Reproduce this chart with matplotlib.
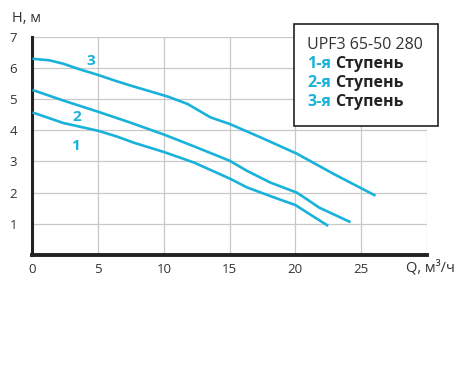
import matplotlib
matplotlib.use("Agg")
import matplotlib.pyplot as plt

plt.rcParams['font.family'] = ['Open Sans', 'DejaVu Sans']

# stage curves
q1 = [0, 2.35, 5, 6.4, 7.7, 10, 12.3, 15, 16.35, 18.4, 20, 22.5]
h1 = [4.57, 4.23, 3.98, 3.80, 3.60, 3.30, 2.96, 2.45, 2.16, 1.84, 1.6, 0.93]

q2 = [0, 2.35, 5, 7.4, 10, 12.3, 15, 16.35, 18.1, 20.1, 20.9, 21.8, 24.2]
h2 = [5.29, 4.95, 4.59, 4.25, 3.86, 3.48, 3.02, 2.69, 2.32, 2.0, 1.78, 1.52, 1.05]

q3 = [0, 1.3, 2.35, 3.6, 5, 6.4, 7.7, 9, 10.35, 11.8, 13.55, 15, 17.35,
      20.1, 22.9, 26.1]
h3 = [6.29, 6.24, 6.13, 5.95, 5.77, 5.57, 5.40, 5.24, 5.07, 4.84, 4.41, 4.2,
      3.77, 3.25, 2.6, 1.9]

curve_labels = ['1', '2', '3']
label_pos = [(3.3, 3.5), (3.4, 4.42), (4.4, 6.22)]
legend_title = 'UPF3 65-50 280'
stage_nums = ['1-я', '2-я', '3-я']

xticks = [0, 5, 10, 15, 20, 25]
yticks = [1, 2, 3, 4, 5, 6, 7]

cyan = '#19b2da'

fig = plt.figure(figsize=(4.59, 3.70), dpi=100)
ax = fig.add_axes([0.0708, 0.311, 0.859, 0.590])

for q, h in [(q1, h1), (q2, h2), (q3, h3)]:
    ax.plot(q, h, color=cyan, lw=1.9, solid_capstyle='butt',
            solid_joinstyle='round', zorder=3)

for t, (x, y) in zip(curve_labels, label_pos):
    ax.text(x, y, t, color=cyan, fontsize=11, fontweight='bold',
            ha='center', va='center')

ax.set_xlim(0, 30)
ax.set_ylim(0, 7)
ax.set_xticks(xticks + [30])
ax.set_xticklabels([str(v) for v in xticks] + [''])
ax.set_yticks(yticks)
ax.grid(True, color='#c8c8c8', lw=0.9)
ax.tick_params(length=0, labelsize=9.5, labelcolor='#333333')
ax.tick_params(axis='y', pad=11)
ax.tick_params(axis='x', pad=6)

for s in ['top', 'right']:
    ax.spines[s].set_visible(False)
ax.spines['left'].set_linewidth(2.2)
ax.spines['bottom'].set_linewidth(2.8)
ax.spines['left'].set_color('#222222')
ax.spines['bottom'].set_color('#222222')

fig.text(12 / 459, 1 - 18 / 370, 'Н, м', fontsize=10.5, color='#333333',
         ha='left', va='center')
fig.text(406 / 459, 1 - 268 / 370, 'Q, м³/ч', fontsize=10.5, color='#333333',
         ha='left', va='center')

# legend box
box = plt.Rectangle((294 / 459, 1 - 126 / 370), 144 / 459, 102 / 370,
                    transform=fig.transFigure, fill=True, facecolor='white',
                    edgecolor='#222222', lw=1.2, zorder=5)
fig.add_artist(box)
fig.text(307 / 459, 1 - 45 / 370, legend_title, fontsize=11.5,
         color='#333333', ha='left', va='center', zorder=6)
for i, s in enumerate(stage_nums):
    y = 1 - (64 + 19 * i) / 370
    t = fig.text(307 / 459, y, s, fontsize=11.5, fontweight='bold',
                 color=cyan, ha='left', va='center', zorder=6)
    fig.canvas.draw()
    bb = t.get_window_extent()
    fig.text(bb.x1 / fig.bbox.width + 4 / 459, y, 'Ступень', fontsize=11.5,
             fontweight='bold', color='#222222', ha='left', va='center',
             zorder=6)

fig.savefig('out.png', dpi=100)
